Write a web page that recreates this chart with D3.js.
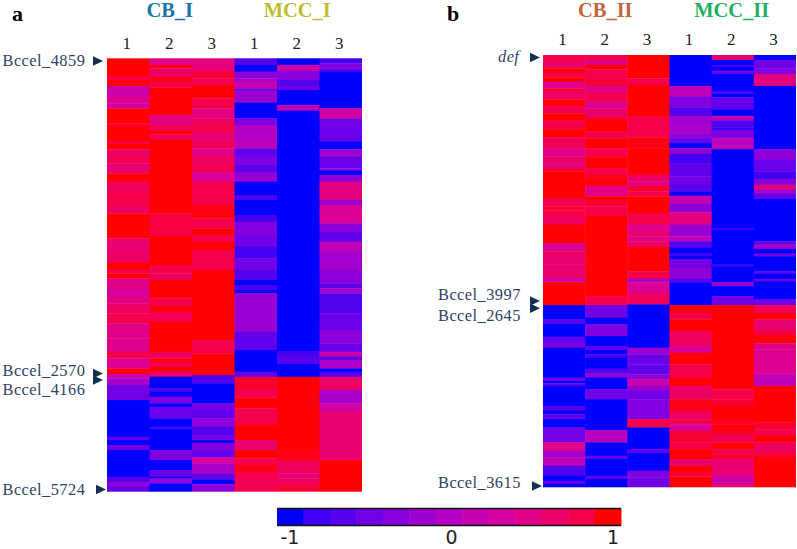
<!DOCTYPE html>
<html><head><meta charset="utf-8">
<script src="https://cdn.jsdelivr.net/npm/d3@7"></script>
<style>html,body{margin:0;padding:0;background:#fff}svg{display:block}</style>
</head><body><svg id="c" width="797" height="549"></svg>
<script>
// Heatmap rows: each column is a list of [last row of run, z-score]
const rowCount = 130;
const aCB1 = [[5.5,1],[6.5,.85],[8.3,.97],[11.5,.25],[13.5,.45],[15,.3],[19.5,1],[20.3,.9],[25,1],[25.7,.85],[27.3,1],[29.5,.7],[31.5,.8],[34.5,.65],[37,1],[40,.75],[44.5,.85],[46.5,.7],[54,1],[58,.65],[61.3,.72],[63.5,1],[64.5,.8],[66,1],[69.5,.5],[71,.3],[73.5,.5],[76.5,.7],[79.5,.85],[84,.5],[88,.45],[90,.85],[93,.45],[94.7,.95],[96,.25],[98,-.1],[102.5,-.5],[113.5,-1],[114.5,-.6],[116,-1],[117.5,-.5],[125.5,-1],[127,-.7],[128.5,-.3],[130,-.6]];
const aCB2 = [[2,.45],[3,1],[5.5,.7],[7,.95],[8.7,.85],[17,1],[20,.55],[21.7,.8],[22.8,1],[24.5,.8],[46.5,1],[53.3,.87],[62,1],[64.5,.85],[66.5,.75],[72,1],[74.5,.85],[76,1],[79,.8],[88,1],[90,.75],[91.3,.97],[92.5,.75],[94,1],[95.5,.7],[99,-1],[100,-.7],[101.5,-1],[103.5,-.4],[104.5,-1],[108,-.55],[110.5,-1],[111,-.7],[117.5,-1],[120.5,-.4],[123.5,-1],[125.5,-.55],[126,-1],[127.5,-.3],[130,-1]];
const aCB3 = [[2,.55],[4,.6],[6,.9],[8,.8],[12,1],[15,.85],[18,.55],[20,.75],[22,.85],[25,.65],[27,.8],[29.5,.5],[32.5,.75],[34,.85],[37,.4],[44,.85],[47,.95],[48,1],[51,.85],[53,1],[55,.85],[57.5,1],[63.5,.85],[84.5,1],[86,.8],[88.5,.85],[95,1],[97.5,-.7],[103.5,-1],[105.5,-.45],[108,-.6],[110.5,-.3],[113,-.7],[114.5,-.5],[115.3,-1],[117.5,-.4],[119.7,-.6],[121.5,.4],[124.7,-.1],[126.3,-.6],[127.7,-1],[130,-.3]];
const aMCC1 = [[2,-.7],[4,-1],[6,-.3],[7,-.1],[9,.2],[9.5,-.6],[13.3,-.2],[18,-1],[20,-.4],[25,0],[27,.1],[29.5,-.6],[32,-.4],[34,-.65],[35.5,-.3],[37,-.2],[41,-1],[42.3,-.7],[47,-1],[49,-.8],[53.5,-.4],[56.5,-.5],[60,-.8],[63.5,-.5],[66.5,-.7],[68,-1],[69.5,-.75],[70.5,-1],[82,-.2],[87.5,-.6],[94,-1],[95.5,-.6],[99.5,.9],[101.7,.8],[105,1],[110,.85],[114.5,1],[117.5,.65],[120,1],[122,.85],[124,.95],[125.5,.85],[128,.8],[130,.85]];
const aMCC2 = [[2,-1],[3.7,.3],[6.5,-.35],[8.3,-.7],[9.5,-.5],[14,-1],[15.7,.1],[87.8,-1],[89.5,-.8],[91.7,-.65],[95.5,-1],[117.5,1],[120.7,.95],[124.5,.75],[126,.6],[128,.75],[130,.9]];
const aMCC3 = [[1.5,-.8],[3,-.4],[4,-.6],[15,-1],[18,.3],[20.5,-.5],[25,-.55],[27.3,-1],[29.5,-.15],[33,-.55],[33.7,-.3],[35,-1],[37,-.3],[42.5,.55],[44,-.2],[49.5,.4],[52,-.3],[55,-.6],[58,.1],[63.5,-.15],[67.5,-.3],[69,-.6],[70.5,-.1],[76.5,-.7],[81.5,-.55],[85.5,-.3],[88,-.55],[89.5,.2],[90.5,-.6],[93,-.05],[94,-1],[95.5,-.7],[99.5,.7],[103.5,-.1],[106,.3],[120.5,.65],[130,1]];
const bCB1 = [[2,.85],[4,.7],[5.3,1],[6.7,.85],[8,1],[10,.45],[11,.9],[13.3,.7],[15.3,1],[17.5,.8],[19.7,1],[22.3,.85],[24.7,1],[28,.8],[30.5,.5],[32.5,.7],[34,.5],[35,.9],[43,1],[45.5,.85],[46.7,.9],[49,.85],[51,.75],[56.5,1],[59,.45],[61,.7],[63,.62],[67,.65],[68.3,.3],[75.2,1],[79.5,-1],[80.7,-.6],[84.7,-1],[86.5,-.6],[88,-.4],[97,-1],[98,-.5],[98.7,-1],[99.5,-.6],[105.5,-1],[107,-.7],[108,-1],[109.5,-.6],[112,-1],[116.5,-.5],[119,.5],[121,-.1],[123.5,.1],[126.5,-.7],[128,-1],[129,-.6],[130,-1]];
const bCB2 = [[1.5,.85],[3,.5],[4.3,1],[7.5,.85],[9.3,.9],[11.3,.5],[14,.85],[16,.45],[18.5,.65],[19.5,.9],[23,1],[23.7,.9],[25,.8],[28,1],[30.7,.85],[34,1],[36,.85],[37.3,.95],[39.3,1],[42.5,.5],[43.5,1],[45.5,.9],[48.3,.85],[72.5,1],[75.2,.85],[79,-.5],[81,-1],[84.5,-.4],[87.5,-1],[88.7,-.6],[90,-1],[91,-.7],[94.3,-1],[95.7,-.7],[97,-.3],[100.5,-1],[103.5,-.5],[112.8,-1],[116.5,.05],[120.5,-1],[121.3,-.5],[126.5,-1],[127.5,-.6],[130,-1]];
const bCB3 = [[7,1],[9,.85],[18.5,1],[24.7,.85],[28,.95],[36,1],[38,.7],[39.3,.5],[41,.9],[42.5,.85],[47.5,1],[51,.85],[52.5,.45],[54.5,.6],[56,.5],[57.7,.7],[65,1],[67.3,.85],[68.3,-.1],[71.5,.4],[75,.75],[88,-1],[90,-.2],[93,-.55],[96,-.6],[97.5,-.3],[99.5,.2],[101,-.2],[103.5,-.5],[109.5,-.4],[112,.85],[118.5,-1],[119.7,-.6],[125,-1],[127,-.4],[130,-.5]];
const bMCC1 = [[9.3,-1],[12.5,.1],[15.7,-.4],[18.3,-.7],[21,-.15],[23.5,-.05],[25,-.3],[26.5,-.55],[28,-1],[29.7,-.2],[32.5,-.8],[36.5,-.6],[39,-.5],[41,-.65],[42.3,-1],[44.7,.2],[47.3,-.3],[51,.55],[54.5,-.2],[56,.1],[58,-.7],[59.7,-1],[60.3,-.7],[61.3,-1],[64,-.5],[67.3,-.3],[68.5,-.7],[75.2,-1],[77.5,1],[79.5,.85],[83,1],[87.5,.75],[89.5,.4],[93,1],[97,.85],[99.5,1],[103.5,.7],[107,.95],[109.5,.75],[111,.85],[113,.4],[116.5,.9],[118.5,.85],[121.5,1],[123.5,.65],[125.3,1],[126.7,.9],[130,1]];
const bMCC2 = [[1.5,.6],[3,-1],[3.5,-.6],[4.7,-1],[5.7,-.5],[11,-1],[11.5,-.6],[12.7,-1],[14,-.6],[16.3,-.6],[18.3,-1],[19.7,.1],[21.7,-.7],[22.7,-.85],[25,-.4],[28.3,.1],[52,-1],[52.5,-.7],[63,-1],[63.5,-.8],[68.3,-1],[69.5,-.2],[72.5,-1],[75.2,-.5],[100.5,1],[103.5,.85],[105.5,.9],[110,1],[111,.9],[113,1],[114.5,.9],[116.5,.8],[118.5,1],[120,.85],[121.5,.9],[126.5,.65],[129,.25],[130,.6]];
const bMCC3 = [[1.5,-1],[4,-.5],[5.7,-.4],[9.3,.55],[28.3,-1],[31.5,-.3],[35,-.55],[37.3,-.8],[39,-.35],[40.3,.6],[41.7,-.1],[43.3,-.6],[56,-1],[57,-.6],[58.3,-.1],[59.7,-1],[60.5,-.45],[65,-1],[65.7,-.6],[67.3,-1],[68,-.5],[73.5,-1],[75.2,-.5],[77.5,.8],[79.5,1],[83,.65],[84.5,.9],[86.7,1],[88.5,.5],[95.7,.45],[97,.2],[99.5,.1],[110.5,1],[112.5,.9],[114.5,.85],[116.5,1],[120,.75],[121.5,.95],[130,1]];

const panelASeries = [aCB1, aCB2, aCB3, aMCC1, aMCC2, aMCC3];
const panelBSeries = [bCB1, bCB2, bCB3, bMCC1, bMCC2, bMCC3];
const columnLabels = ["1","2","3","1","2","3"];
const panelAGroups = ["CB_I","MCC_I"];
const panelBGroups = ["CB_II","MCC_II"];
const panelAGenes = ["Bccel_4859","Bccel_2570","Bccel_4166","Bccel_5724"];
const panelBGenes = ["def","Bccel_3997","Bccel_2645","Bccel_3615"];
const legendSteps = [-1,-.83,-.67,-.5,-.33,-.17,0,.17,.33,.5,.67,.83,1];
const legendTicks = [-1,0,1];

const color = d3.scaleLinear()
  .domain([-1,-.85,-.4,0,.4,.85,1])
  .range(["#0000ff","#3c00f6","#8000e2","#b400c2","#dc0098","#f5004c","#ff0000"]);
const svg = d3.select("#c");
const defs = svg.append("defs");
defs.append("filter").attr("id","soft").attr("x","-2%").attr("y","-2%").attr("width","104%").attr("height","104%")
  .append("feGaussianBlur").attr("stdDeviation",0.35);
const navy = "#2f4465", arrow = "#14304f", serif = "'Liberation Serif','Times New Roman',serif";

function panel(series, box, conf){
  const g = svg.append("g");
  const x = d3.scaleBand().domain(d3.range(series.length)).range([box.x0, box.x1]);
  const y = d3.scaleLinear().domain([0,rowCount]).range([box.y0, box.y1]);
  const heat = g.append("g").attr("filter","url(#soft)");
  series.forEach((col,i)=>{
    let prev = 0;
    const runs = col.map(([end,v])=>{ const r={start:prev,end,v}; prev=Math.max(prev,end); return r; })
      .filter(r=>r.end>r.start);
    heat.append("g").selectAll("rect").data(runs).join("rect")
      .attr("x",x(i)).attr("width",x.bandwidth()+(i<series.length-1?.5:0))
      .attr("y",d=>y(d.start)).attr("height",d=>y(d.end)-y(d.start)+(d.end<rowCount?.4:0))
      .attr("fill",d=>color(d.v));
  });
  g.selectAll("text.num").data(columnLabels).join("text").attr("class","num")
    .attr("x",(d,i)=>x(i)+x.bandwidth()/2-1.5).attr("y",conf.numY)
    .attr("text-anchor","middle").attr("font-family",serif).attr("font-size",17).attr("fill","#222").text(d=>d);
  g.selectAll("text.grp").data(conf.groups).join("text").attr("class","grp")
    .attr("x",(d,i)=>x(i*3+1)+x.bandwidth()/2-1).attr("y",17)
    .attr("text-anchor","middle").attr("font-family",serif).attr("font-weight","bold").attr("font-size",20.5)
    .attr("fill",(d,i)=>conf.groupColors[i]).text(d=>d);
  g.append("text").attr("x",conf.tagX).attr("y",21).attr("font-family",serif).attr("font-weight","bold")
    .attr("font-size",22).attr("fill","#000").text(conf.tag);
  g.selectAll("text.gene").data(conf.genes).join("text").attr("class","gene")
    .attr("x",(d,i)=>conf.geneX[i]).attr("y",(d,i)=>conf.geneY[i])
    .attr("font-family",serif).attr("font-size",16.4).attr("letter-spacing",.45).attr("fill",navy)
    .attr("font-style",d=>d==="def"?"italic":"normal").text(d=>d);
  g.selectAll("path.arrow").data(conf.arrows).join("path").attr("class","arrow")
    .attr("d",d=>`M${d[0]},${d[1]-4.7}L${d[0]+10},${d[1]}L${d[0]},${d[1]+4.7}Z`).attr("fill",arrow);
}

panel(panelASeries,{x0:107,x1:362,y0:58.3,y1:491.7},{
  numY:49,groups:panelAGroups,groupColors:["#1b75a8","#bfbd2c"],tag:"a",tagX:12,
  genes:panelAGenes,geneX:[2.5,2.5,2.5,2.5],geneY:[66,376,395.2,495],
  arrows:[[93,61],[93,373.5],[93,380],[96,489.5]]
});
panel(panelBSeries,{x0:543,x1:796,y0:55,y1:487.3},{
  numY:45,groups:panelBGroups,groupColors:["#c0663a","#1fb060"],tag:"b",tagX:447,
  genes:panelBGenes,geneX:[498,438,438,438],geneY:[62,300,320.5,487.5],
  arrows:[[530,57.5],[530,301],[530,308.3],[532,486]]
});

// Legend
const lx = d3.scaleBand().domain(legendSteps).range([277,621]);
const lt = d3.scaleLinear().domain([-1,1]).range([290,613]);
svg.append("g").selectAll("rect").data(legendSteps).join("rect")
  .attr("x",d=>lx(d)).attr("width",lx.bandwidth()+.5).attr("y",508.5).attr("height",17)
  .attr("fill",d=>color(d));
[508.5,525.5].forEach(yy=>svg.append("line").attr("x1",277).attr("x2",621).attr("y1",yy).attr("y2",yy).attr("stroke","#111").attr("stroke-width",1.6));
svg.append("g").selectAll("text").data(legendTicks).join("text")
  .attr("x",d=>lt(d)).attr("y",544.3).attr("text-anchor","middle")
  .attr("font-family","'DejaVu Sans',sans-serif").attr("font-size",19).attr("fill","#222").text(d=>d);
</script></body></html>
